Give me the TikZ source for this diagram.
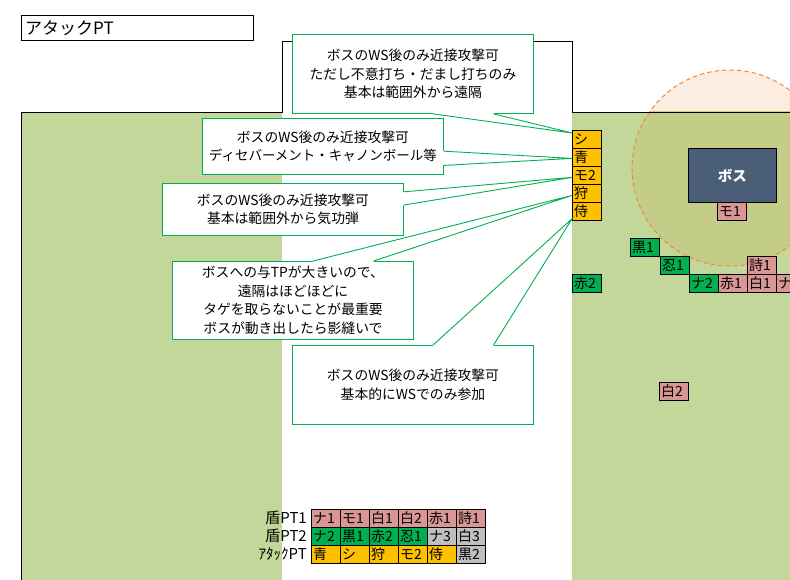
\documentclass[tikz,border=0pt]{standalone}
\usepackage{fontspec}
\setmainfont{Noto Sans CJK JP}
\usetikzlibrary{calc}
\definecolor{fieldgreen}{HTML}{C4D79B}
\definecolor{cellpink}{HTML}{DA9694}
\definecolor{cellgreen}{HTML}{00B050}
\definecolor{cellyellow}{HTML}{FFC000}
\definecolor{cellgrey}{HTML}{BFBFBF}
\definecolor{bossblue}{HTML}{4A5E78}
\definecolor{calloutgreen}{HTML}{00B050}
\definecolor{aoeorange}{HTML}{EE8A3E}
\definecolor{aoepeach}{HTML}{FDEDE0}
\definecolor{aoeolive}{HTML}{C4CD88}
\begin{document}
\begin{tikzpicture}[x=1pt,y=-1pt,
  cell/.style={draw=black, line width=0.8pt, anchor=north west, minimum height=18pt,
    text width=25.5pt, inner xsep=1.75pt, inner ysep=0pt, align=left,
    font=\fontsize{14}{14}\selectfont},
  pcell/.style={cell, fill=cellpink},
  gcell/.style={cell, fill=cellgreen},
  ycell/.style={cell, fill=cellyellow},
  kcell/.style={cell, fill=cellgrey},
  calloutbox/.style={draw=calloutgreen, fill=white, line width=0.9pt, anchor=north west,
    align=center, inner sep=0pt, minimum width=241pt,
    font=\fontsize{13.8}{18.5}\selectfont},
  leader/.style={draw=calloutgreen, line width=0.9pt},
  rowlabel/.style={anchor=east, inner sep=0pt, font=\fontsize{15}{15}\selectfont},
]
\useasboundingbox (0,0) rectangle (790,580);
\clip (0,0) rectangle (790,580);
\fill[white] (0,0) rectangle (790,580);

% field
\fill[fieldgreen] (21,112) rectangle (790,580);
\fill[white] (282,41) rectangle (572,580);
% area of effect
\begin{scope}
  \clip (572,0) rectangle (790,112);
  \fill[aoepeach] (730,168) circle (98pt);
\end{scope}
\begin{scope}
  \clip (572,112) rectangle (790,580);
  \fill[aoeolive] (730,168) circle (98pt);
\end{scope}
\draw[aoeorange, line width=1pt, dash pattern=on 4.5pt off 3pt] (730,168) circle (98pt);
\draw[line width=0.9pt] (21,580) -- (21,112) -- (282,112) -- (282,41) -- (572,41) -- (572,112) -- (790,112);

% title
\node[draw, line width=1.4pt, anchor=north west, minimum height=25pt, text width=225pt,
  inner xsep=3.5pt, inner ysep=0pt, align=left, font=\fontsize{17}{17}\selectfont]
  (title) at (21,15) {アタックPT};

% boss
\node[draw=black, line width=0.8pt, fill=bossblue, anchor=north west, minimum width=88pt,
  minimum height=54pt, text=white, font=\fontsize{14.5}{14.5}\selectfont\bfseries]
  (boss) at (688,148) {ボス};
\node[pcell] (mo1) at (717,202) {モ1};

% attack PT column
\node[ycell] (shi) at (572,130) {シ};
\node[ycell] (ao)  at (572,148) {青};
\node[ycell] (mo2) at (572,166) {モ2};
\node[ycell] (kari) at (572,184) {狩};
\node[ycell] (sam) at (572,202) {侍};

% other members
\node[gcell] (kuro1) at (630,238) {黒1};
\node[gcell] (nin1) at (660,256) {忍1};
\node[gcell] (na2) at (689,274) {ナ2};
\node[pcell] (aka1) at (718,274) {赤1};
\node[pcell] (shiro1) at (747,274) {白1};
\node[pcell] (na1) at (776,274) {ナ1};
\node[pcell] (uta1) at (747,256) {詩1};
\node[gcell] (aka2) at (572,274) {赤2};
\node[pcell] (shiro2) at (659,382) {白2};

% tips
\coordinate (t1) at ([yshift=-3pt]shi.north west);
\coordinate (t2) at ([yshift=-1pt]ao.west);
\coordinate (t3) at ([yshift=-2pt]mo2.west);
\coordinate (t4) at ([yshift=-2pt]kari.west);
\coordinate (t5) at ([yshift=2pt]sam.south west);

% callout 1 (pointer on bottom edge)
\node[calloutbox, minimum height=79pt] (c1) at (292,34)
  {ボスのWS後のみ近接攻撃可\\ただし不意打ち・だまし打ちのみ\\基本は範囲外から遠隔};
\coordinate (c1a) at ($(c1.south west)!7/12!(c1.south east)$);
\coordinate (c1b) at ($(c1.south west)!10/12!(c1.south east)$);
\fill[white] ([yshift=1.2pt]c1a) -- (c1a) -- (t1) -- (c1b) -- ([yshift=1.2pt]c1b) -- cycle;
\draw[leader] (c1a) -- (t1) -- (c1b);

% callout 2 (pointer on right edge)
\node[calloutbox, minimum height=56pt] (c2) at (202,118)
  {ボスのWS後のみ近接攻撃可\\{\fontsize{13.5}{18.5}\selectfont ディセバーメント・キャノンボール等}};
\coordinate (c2a) at ($(c2.north east)!7/12!(c2.south east)$);
\coordinate (c2b) at ($(c2.north east)!10/12!(c2.south east)$);
\fill[white] ([xshift=-1.2pt]c2a) -- (c2a) -- (t2) -- (c2b) -- ([xshift=-1.2pt]c2b) -- cycle;
\draw[leader] (c2a) -- (t2) -- (c2b);

% callout 3 (pointer on right edge)
\node[calloutbox, minimum height=52pt] (c3) at (162,183)
  {ボスのWS後のみ近接攻撃可\\基本は範囲外から気功弾};
\coordinate (c3a) at ($(c3.north east)!2/12!(c3.south east)$);
\coordinate (c3b) at ($(c3.north east)!5/12!(c3.south east)$);
\fill[white] ([xshift=-1.2pt]c3a) -- (c3a) -- (t3) -- (c3b) -- ([xshift=-1.2pt]c3b) -- cycle;
\draw[leader] (c3a) -- (t3) -- (c3b);

% callout 4 (pointer on top edge)
\node[calloutbox, minimum height=78pt] (c4) at (172,261)
  {ボスへの与TPが大きいので、\\遠隔はほどほどに\\タゲを取らないことが最重要\\ボスが動き出したら影縫いで};
\coordinate (c4a) at ($(c4.north west)!7/12!(c4.north east)$);
\coordinate (c4b) at ($(c4.north west)!10/12!(c4.north east)$);
\fill[white] ([yshift=-1.2pt]c4a) -- (c4a) -- (t4) -- (c4b) -- ([yshift=-1.2pt]c4b) -- cycle;
\draw[leader] (c4a) -- (t4) -- (c4b);

% callout 5 (pointer on top edge)
\node[calloutbox, minimum height=79pt] (c5) at (292,345)
  {ボスのWS後のみ近接攻撃可\\基本的にWSでのみ参加};
\coordinate (c5a) at ($(c5.north west)!7/12!(c5.north east)$);
\coordinate (c5b) at ($(c5.north west)!10/12!(c5.north east)$);
\fill[white] ([yshift=-1.2pt]c5a) -- (c5a) -- (t5) -- (c5b) -- ([yshift=-1.2pt]c5b) -- cycle;
\draw[leader] (c5a) -- (t5) -- (c5b);

% legend
\node[rowlabel] (lab1) at (307,518) {盾PT1};
\node[rowlabel] (lab2) at (307,536) {盾PT2};
\node[rowlabel] (lab3) at (307,554) {ｱﾀｯｸPT};

\node[pcell] (l11) at (311,509) {ナ1};
\node[pcell] (l12) at (340,509) {モ1};
\node[pcell] (l13) at (369,509) {白1};
\node[pcell] (l14) at (398,509) {白2};
\node[pcell] (l15) at (427,509) {赤1};
\node[pcell] (l16) at (456,509) {詩1};

\node[gcell] (l21) at (311,527) {ナ2};
\node[gcell] (l22) at (340,527) {黒1};
\node[gcell] (l23) at (369,527) {赤2};
\node[gcell] (l24) at (398,527) {忍1};
\node[kcell] (l25) at (427,527) {ナ3};
\node[kcell] (l26) at (456,527) {白3};

\node[ycell] (l31) at (311,545) {青};
\node[ycell] (l32) at (340,545) {シ};
\node[ycell] (l33) at (369,545) {狩};
\node[ycell] (l34) at (398,545) {モ2};
\node[ycell] (l35) at (427,545) {侍};
\node[kcell] (l36) at (456,545) {黒2};
\end{tikzpicture}
\end{document}
